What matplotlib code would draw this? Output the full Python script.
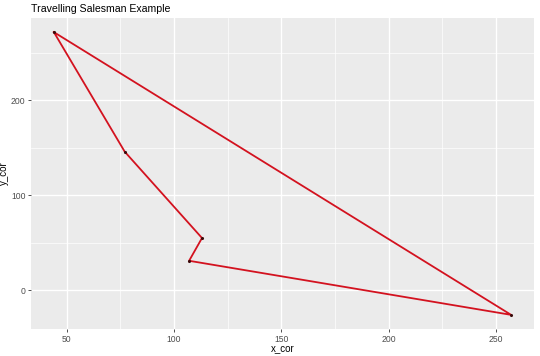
import matplotlib
matplotlib.use("Agg")
import matplotlib.pyplot as plt

plt.rcParams['font.family'] = ['Liberation Sans', 'DejaVu Sans']

# tour of the cities, closed back to the start
x_cor = [44, 77, 113, 107, 257, 44]
y_cor = [272, 146, 55, 31, -26, 272]
x_ticks = [50, 100, 150, 200, 250]
y_ticks = [0, 100, 200]

fig = plt.figure(figsize=(5.4, 3.56), dpi=100)
ax = fig.add_axes([31 / 540, 27 / 356, 503 / 540, 311 / 356])
ax.set_facecolor('#EBEBEB')

ax.plot(x_cor, y_cor, color='#d3121f', lw=1.3, zorder=3)
ax.scatter(x_cor[:-1], y_cor[:-1], s=1.5, color='#3a0a0a', zorder=4)

xr = max(x_cor) - min(x_cor)
yr = max(y_cor) - min(y_cor)
ax.set_xlim(min(x_cor) - 0.05 * xr, max(x_cor) + 0.05 * xr)
ax.set_ylim(min(y_cor) - 0.05 * yr, max(y_cor) + 0.05 * yr)

ax.set_xticks(x_ticks)
ax.set_yticks(y_ticks)
ax.set_xticks([75, 125, 175, 225], minor=True)
ax.set_yticks([50, 150, 250], minor=True)
ax.grid(which='major', color='white', lw=1.0)
ax.grid(which='minor', color='white', lw=0.5)
ax.set_axisbelow(True)
for s in ax.spines.values():
    s.set_visible(False)
ax.tick_params(which='major', length=2.5, width=0.6, color='#333333',
               labelsize=6.2, labelcolor='#4D4D4D', pad=1.5)
ax.tick_params(which='minor', length=0)

ax.set_xlabel('x_cor', fontsize=7)
ax.set_ylabel('y_cor', fontsize=7)
ax.xaxis.set_label_coords(0.5, -14 / 311)
ax.yaxis.set_label_coords(-22 / 503, 0.5)
fig.text(31 / 540, 1 - 9 / 356, 'Travelling Salesman Example', fontsize=7.6,
         va='center', ha='left')

fig.savefig('out.png', dpi=100)
